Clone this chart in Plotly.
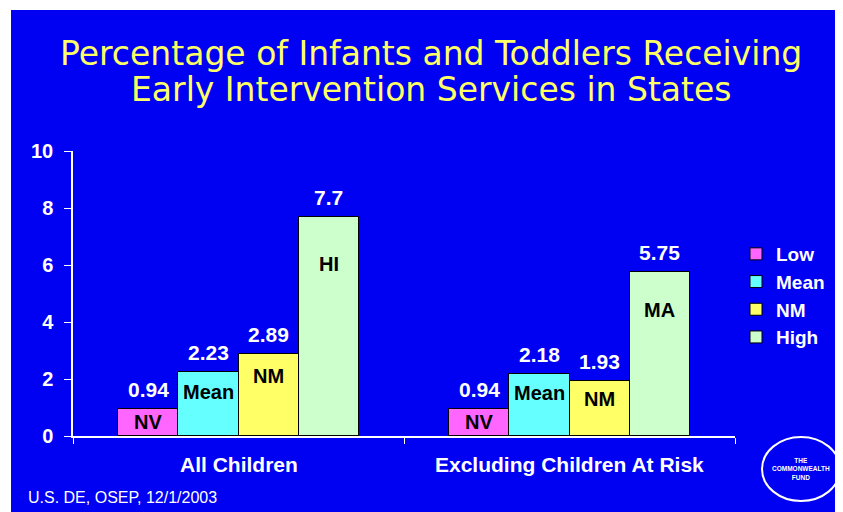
import plotly.graph_objects as go

# data
categories = ["All Children", "Excluding Children At Risk"]
series = ["Low", "Mean", "NM", "High"]
values = {
    "Low": [0.94, 0.94],
    "Mean": [2.23, 2.18],
    "NM": [2.89, 1.93],
    "High": [7.7, 5.75],
}
bar_labels = {
    "Low": ["NV", "NV"],
    "Mean": ["Mean", "Mean"],
    "NM": ["NM", "NM"],
    "High": ["HI", "MA"],
}
colors = {"Low": "#FF66FF", "Mean": "#66FFFF", "NM": "#FFFF66", "High": "#CCFFCC"}
title_lines = ["Percentage of Infants and Toddlers Receiving", "Early Intervention Services in States"]

BLUE = "#0000F2"
O = 8  # page body margin, everything is measured on the slide and shifted by this
W, H = 843 - O, 512 - O
L, T = 73 - O, 151 - O
R, B = W - (735 - O), H - (436 - O)
bw = 60 / 330  # bar width in category units
pw, ph = W - L - R, H - T - B


def px(x):
    return (x - O - L) / pw


def py(y):
    return (H - B - (y - O)) / ph


bold = dict(family="Liberation Sans", color="white", weight="bold")

fig = go.Figure()
ann = []
for j, s in enumerate(series):
    xs = [g + (j - 1.5) * bw for g in range(len(categories))]
    fig.add_trace(go.Bar(
        x=xs, y=values[s], width=bw, name=s,
        marker=dict(color=colors[s], line=dict(color="black", width=1)),
    ))
    for x, v, lab in zip(xs, values[s], bar_labels[s]):
        # value above the bar
        ann.append(dict(x=x, y=v, text=str(v), showarrow=False, yanchor="bottom", yshift=6,
                        font=dict(bold, size=21)))
        # state label inside the bar
        ann.append(dict(x=x, y=v - 0.28 - 0.18 * v, text=lab, showarrow=False, yanchor="middle",
                        font=dict(bold, size=20, color="black")))

for g, c in enumerate(categories):
    ann.append(dict(x=g, y=0, text=c, showarrow=False, yanchor="top", yshift=-15,
                    font=dict(bold, size=21)))

# title as two lines to keep the tight line spacing
for i, line in enumerate(title_lines):
    ann.append(dict(xref="paper", yref="paper", x=px(431), y=py(53 + 36 * i), xanchor="center",
                    yanchor="middle", text=line, showarrow=False,
                    font=dict(family="DejaVu Sans", size=33, color="#FFFF66")))

ann.append(dict(xref="paper", yref="paper", x=px(26), y=py(497), xanchor="left", yanchor="middle",
                text="U.S. DE, OSEP, 12/1/2003", showarrow=False,
                font=dict(family="Liberation Sans", size=16, color="white")))
ann.append(dict(xref="paper", yref="paper", x=px(801), y=py(469), xanchor="center", yanchor="middle",
                text="THE<br>COMMONWEALTH<br>FUND", showarrow=False,
                font=dict(bold, size=6.5)))

shapes = [
    dict(type="rect", xref="paper", yref="paper", x0=px(-20), x1=px(11), y0=py(-20), y1=py(530),
         fillcolor="white", line=dict(width=0), layer="below"),
    dict(type="rect", xref="paper", yref="paper", x0=px(-20), x1=px(860), y0=py(-20), y1=py(10),
         fillcolor="white", line=dict(width=0), layer="below"),
    dict(type="circle", xref="paper", yref="paper", x0=px(762), x1=px(840), y0=py(437), y1=py(501),
         line=dict(color="white", width=2)),
]

fig.update_layout(
    width=W, height=H,
    margin=dict(l=L, r=R, t=T, b=B, autoexpand=False),
    paper_bgcolor=BLUE, plot_bgcolor=BLUE,
    showlegend=True,
    legend=dict(x=px(736), y=py(235), xanchor="left", yanchor="top", bgcolor="rgba(0,0,0,0)",
                font=dict(bold, size=19), itemwidth=30),
    annotations=ann,
    shapes=shapes,
    bargap=0,
)
fig.update_xaxes(range=[-0.5, 1.5], tickvals=[-0.5, 0.5, 1.5], ticktext=["", "", ""],
                 ticks="outside", ticklen=6, tickcolor="white", showline=True, linecolor="white",
                 linewidth=1.5, showgrid=False, zeroline=False)
fig.update_yaxes(range=[0, 10], dtick=2, ticks="outside", ticklen=7, tickcolor="white",
                 showline=True, linecolor="white", linewidth=1.5, showgrid=False, zeroline=False,
                 ticklabelstandoff=7, tickfont=dict(bold, size=20))

fig.write_html("out.html")
